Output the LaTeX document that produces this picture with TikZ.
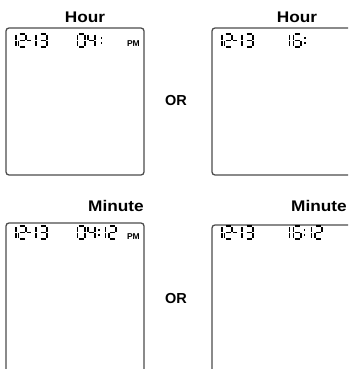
\documentclass[tikz,border=0pt]{standalone}
\usepackage{fontspec}
\setmainfont{Liberation Sans}
\tikzset{
  segline/.style={line width=1.75pt, line cap=butt},
  boxline/.style={draw=black!70, line width=1.3pt, rounded corners=3pt},
  title/.style={font=\fontsize{15.4}{16}\selectfont\bfseries, anchor=base, inner sep=0pt},
  ortext/.style={font=\fontsize{14.5}{15}\selectfont\bfseries, anchor=base, inner sep=0pt},
  pmtext/.style={font=\fontsize{8.5}{9}\selectfont\bfseries, anchor=base east, inner sep=0pt},
  seg a/.pic={\draw[segline] (1,0)--(6.2,0);},
  seg b/.pic={\draw[segline] (7.2,1)--(7.2,5.8);},
  seg c/.pic={\draw[segline] (7.2,7.2)--(7.2,12);},
  seg d/.pic={\draw[segline] (1,13)--(6.2,13);},
  seg e/.pic={\draw[segline] (0,7.2)--(0,12);},
  seg f/.pic={\draw[segline] (0,1)--(0,5.8);},
  seg g/.pic={\draw[segline] (1,6.5)--(6.2,6.5);},
  seg m/.pic={\draw[segline] (0,6.5)--(3.4,6.5);},
}
\newcommand\lcdd[3]{\begin{scope}[shift={(#1,#2)}]\foreach \s in {#3}{\pic {seg \s};}\end{scope}}
\newcommand\lcdcolon[2]{\fill (#1-0.8,#2+3.2) rectangle ++(1.7,1.7); \fill (#1-0.8,#2+8.4) rectangle ++(1.7,1.7);}
\newcommand\lcddate[2]{%
  \lcdd{#1+8.8}{#2}{b,c}\lcdd{#1+18.5}{#2}{a,b,g,e,d}\lcdd{#1+27.2}{#2}{m}%
  \lcdd{#1+28.8}{#2}{b,c}\lcdd{#1+39.5}{#2}{a,b,g,c,d}}
\begin{document}
\begin{tikzpicture}[x=1pt,y=-1pt]
\useasboundingbox (0,0) rectangle (348,369);
\clip (0,0) rectangle (348,369);
% boxes
\draw[boxline] (6,28) rectangle (144,175);
\draw[boxline] (212,28) rectangle (356,175);
\draw[boxline] (6,223) rectangle (144,380);
\draw[boxline] (212,225) rectangle (356,380);
% titles
\node[title] (h1) at (85,23) {\scalebox{1.12}[1]{Hour}};
\node[title] (h2) at (297,23) {\scalebox{1.12}[1]{Hour}};
\node[title] (m1) at (116,211) {\scalebox{1.12}[1]{Minute}};
\node[title] (m2) at (319,211) {\scalebox{1.12}[1]{Minute}};
\node[ortext] (or1) at (176,105) {OR};
\node[ortext] (or2) at (176,303) {OR};
% top-left display
\lcddate{0}{34}
\lcdd{77.5}{34}{a,b,c,d,e,f}\lcdd{88}{34}{f,g,b,c}\lcdcolon{101.5}{34}
\node[pmtext] (pm1) at (140,47) {PM};
% top-right display
\lcddate{206}{34}
\lcdd{282.3}{34}{b,c}\lcdd{293.5}{34}{a,f,g,e,d,c}\lcdcolon{305}{34}
% bottom-left display
\lcddate{0}{226}
\lcdd{77.5}{226}{a,b,c,d,e,f}\lcdd{88}{226}{f,g,b,c}\lcdcolon{99}{226}
\lcdd{98.3}{226}{b,c}\lcdd{109}{226}{a,b,g,e,d}
\node[pmtext] (pm2) at (140,239) {PM};
% bottom-right display
\lcddate{206}{226}
\lcdd{282.3}{226}{b,c}\lcdd{293.5}{226}{a,f,g,e,d,c}\lcdcolon{304.5}{226}
\lcdd{304.3}{226}{b,c}\lcdd{315}{226}{a,b,g,e,d}
\end{tikzpicture}
\end{document}
